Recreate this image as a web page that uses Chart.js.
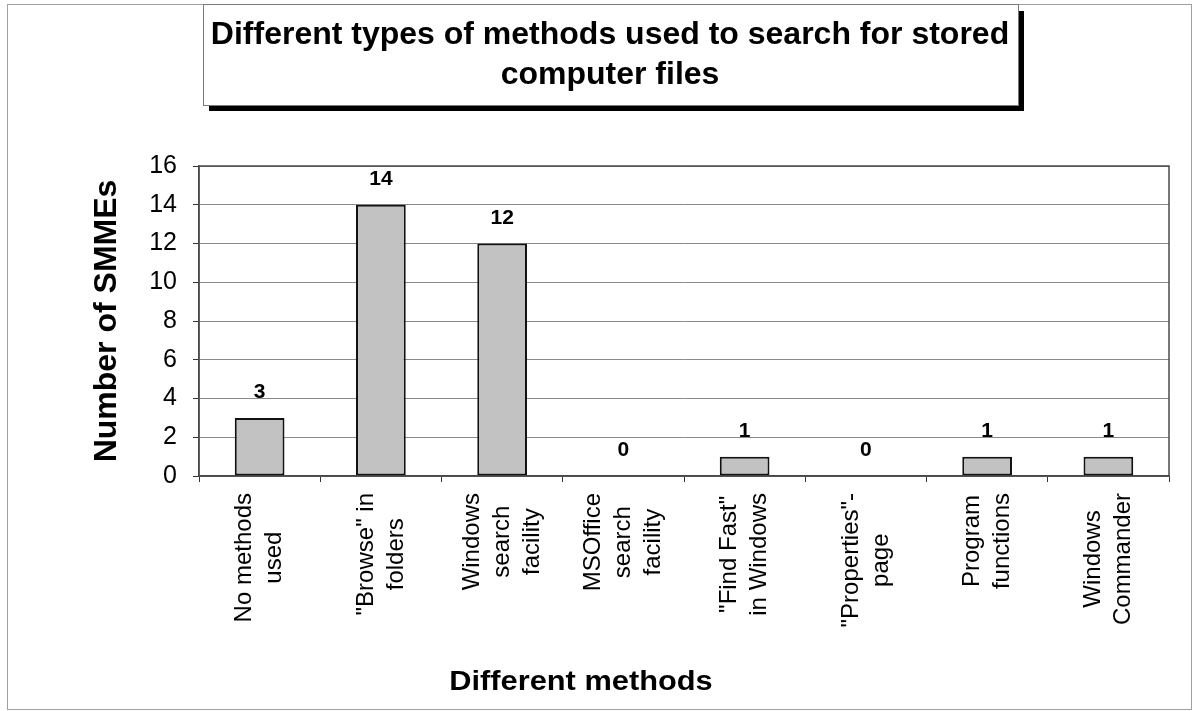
<!DOCTYPE html>
<html>
<head>
<meta charset="utf-8">
<title>Methods used to search for stored computer files</title>
<script src="https://cdn.jsdelivr.net/npm/chart.js@4/dist/chart.umd.min.js"></script>
<style>
  html, body { margin: 0; padding: 0; background: #ffffff; }
  #wrap { width: 1194px; height: 711px; }
  canvas { display: block; }
</style>
</head>
<body>
<div id="wrap"><canvas id="chart" width="1194" height="711"></canvas></div>
<script>
// ---- data ----
const chartTitle = ['Different types of methods used to search for stored', 'computer files'];
const methods = [
  ['No methods', 'used'],
  ['"Browse" in', 'folders'],
  ['Windows', 'search', 'facility'],
  ['MSOffice', 'search', 'facility'],
  ['"Find Fast"', 'in Windows'],
  ['"Properties"-', 'page'],
  ['Program', 'functions'],
  ['Windows', 'Commander']
];
const smmeCounts = [3, 14, 12, 0, 1, 0, 1, 1];
const yTickValues = [0, 2, 4, 6, 8, 10, 12, 14, 16];
const yAxisTitle = 'Number of SMMEs';
const xAxisTitle = 'Different methods';

const FONT = '"Liberation Sans", Arial, Helvetica, sans-serif';

// page frame, plot frame, rotated category labels, value labels and the boxed title
const decorations = {
  id: 'decorations',
  beforeDraw(chart) {
    const ctx = chart.ctx;
    ctx.save();
    ctx.fillStyle = '#ffffff';
    ctx.fillRect(0, 0, chart.width, chart.height);
    ctx.strokeStyle = '#a0a0a0';
    ctx.lineWidth = 1;
    ctx.strokeRect(7.5, 4.5, 1184, 705);
    ctx.restore();
  },
  afterDatasetsDraw(chart) {
    const ctx = chart.ctx;
    const meta = chart.getDatasetMeta(0);
    ctx.save();
    ctx.fillStyle = '#000';
    ctx.font = 'bold 21px ' + FONT;
    ctx.textAlign = 'center';
    ctx.textBaseline = 'alphabetic';
    meta.data.forEach((bar, i) => {
      ctx.fillText(String(smmeCounts[i]), bar.x, bar.y - 20);
    });
    ctx.restore();
  },
  afterDraw(chart) {
    const ctx = chart.ctx;
    const area = chart.chartArea;
    const xs = chart.scales.x;

    // plot frame
    ctx.save();
    ctx.strokeStyle = '#4a4a4a';
    ctx.lineWidth = 1.5;
    ctx.strokeRect(area.left, area.top, area.right - area.left, area.bottom - area.top);

    // category labels, rotated, lines centred on each other
    ctx.fillStyle = '#000';
    ctx.font = '24px ' + FONT;
    ctx.textAlign = 'center';
    ctx.textBaseline = 'middle';
    const lineGap = 30;
    methods.forEach((lines, i) => {
      const cx = xs.getPixelForValue(i);
      const maxW = Math.max(...lines.map(l => ctx.measureText(l).width));
      const yc = area.bottom + 17 + maxW / 2;
      lines.forEach((line, j) => {
        const lx = cx + (j - (lines.length - 1) / 2) * lineGap;
        ctx.save();
        ctx.translate(lx, yc);
        ctx.rotate(-Math.PI / 2);
        ctx.fillText(line, 0, 0);
        ctx.restore();
      });
    });

    // x axis title
    ctx.save();
    ctx.translate(581, 690);
    ctx.scale(1.14, 1);
    ctx.font = 'bold 27px ' + FONT;
    ctx.textAlign = 'center';
    ctx.textBaseline = 'alphabetic';
    ctx.fillText(xAxisTitle, 0, 0);
    ctx.restore();

    // boxed title with drop shadow
    ctx.fillStyle = '#000';
    ctx.fillRect(209, 11, 815, 100);
    ctx.fillStyle = '#fff';
    ctx.fillRect(203, 4, 815, 101);
    ctx.strokeStyle = '#7a7a7a';
    ctx.lineWidth = 1;
    ctx.strokeRect(203.5, 4.5, 815, 101);
    ctx.fillStyle = '#000';
    ctx.font = 'bold 32px ' + FONT;
    ctx.textAlign = 'center';
    ctx.textBaseline = 'alphabetic';
    ctx.fillText(chartTitle[0], 610, 44);
    ctx.fillText(chartTitle[1], 610, 84);
    ctx.restore();
  }
};

new Chart(document.getElementById('chart'), {
  type: 'bar',
  data: {
    labels: methods,
    datasets: [{
      data: smmeCounts,
      backgroundColor: '#c2c2c2',
      borderColor: '#111',
      borderWidth: 2,
      borderSkipped: false,
      categoryPercentage: 1.0,
      barPercentage: 0.41
    }]
  },
  options: {
    responsive: false,
    animation: false,
    devicePixelRatio: 1,
    layout: { padding: { top: 166, right: 25, bottom: 0, left: 0 } },
    plugins: {
      legend: { display: false },
      tooltip: { enabled: false }
    },
    scales: {
      x: {
        offset: true,
        grid: { offset: true, drawOnChartArea: false, drawTicks: true, tickLength: 6, tickColor: '#333' },
        ticks: { display: false },
        border: { display: true, color: '#4a4a4a', width: 1.5 },
        afterFit(scale) { scale.height = 235; }
      },
      y: {
        min: yTickValues[0],
        max: yTickValues[yTickValues.length - 1],
        afterBuildTicks(scale) { scale.ticks = yTickValues.map(v => ({ value: v })); },
        ticks: {
          color: '#000',
          font: { family: FONT, size: 25 },
          padding: 16
        },
        grid: { color: '#8a8a8a', lineWidth: 1, tickLength: 6, tickColor: '#333' },
        border: { display: true, color: '#4a4a4a', width: 1.5 },
        title: {
          display: true,
          text: yAxisTitle,
          color: '#000',
          font: { family: FONT, size: 32, weight: 'bold' },
          padding: { top: 88, bottom: 0 }
        },
        afterFit(scale) { scale.width = 199; }
      }
    }
  },
  plugins: [decorations]
});
</script>
</body>
</html>
